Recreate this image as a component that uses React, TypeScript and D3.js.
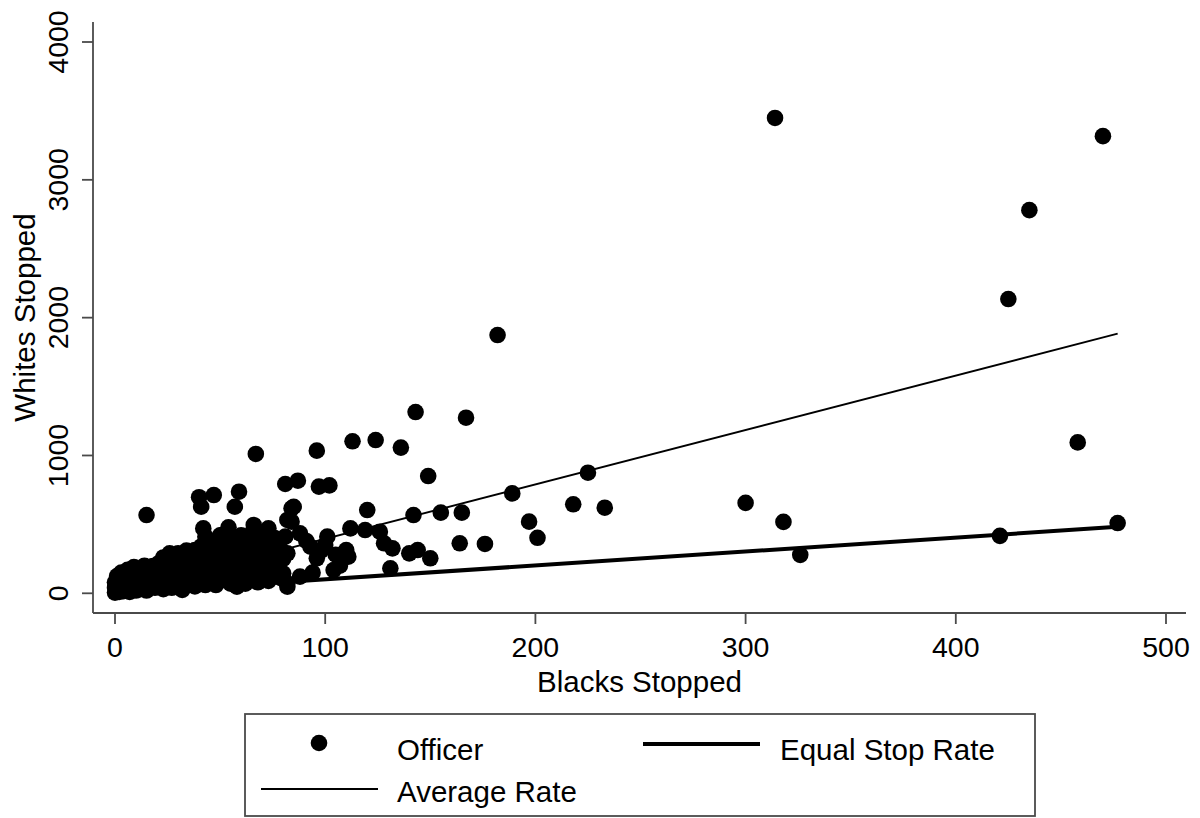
import React from "react";
import * as d3 from "d3";

// Officers: [blacks stopped, whites stopped]
const officers: [number, number][] = [
  [0, 5], [0, 40], [0, 80], [1, 20], [1, 60], [1, 125], [2, 10], [2, 100], [3, 45], [3, 150],
  [4, 15], [4, 80], [5, 130], [5, 30], [6, 60], [6, 170], [7, 10], [7, 110], [8, 40], [8, 150],
  [9, 80], [9, 190], [10, 20], [10, 120], [11, 60], [11, 175], [12, 100], [12, 30], [13, 150], [14, 60],
  [14, 200], [15, 110], [15, 20], [16, 170], [17, 70], [18, 198], [18, 130], [19, 40], [20, 100], [20, 170],
  [15, 568],
  [21, 60], [21, 220], [22, 140], [23, 30], [23, 260], [24, 190], [25, 90], [26, 290], [26, 150], [27, 40],
  [28, 230], [29, 110], [30, 180], [30, 290], [31, 60], [32, 24], [32, 240], [33, 140], [34, 310], [35, 80],
  [35, 200], [36, 260], [37, 130], [38, 314], [38, 50], [39, 190], [40, 250], [40, 100],
  [41, 628], [40, 697], [42, 471], [43, 411], [41, 340], [42, 180], [43, 60], [44, 290], [45, 97], [45, 380],
  [46, 220], [47, 713], [47, 140], [48, 330], [48, 60], [49, 260], [50, 420], [50, 180], [51, 423], [52, 110],
  [52, 300], [53, 220], [54, 479], [54, 338], [55, 160], [55, 70], [56, 260], [57, 628], [57, 380], [58, 48],
  [58, 200], [59, 737], [59, 300], [60, 314], [60, 130], [60, 420],
  [61, 230], [62, 70], [62, 360], [63, 180], [64, 270], [65, 435], [65, 100], [66, 496], [66, 320], [67, 1011],
  [67, 220], [68, 380], [68, 80], [69, 160], [70, 280], [71, 363], [71, 440], [72, 200], [73, 471], [73, 90],
  [74, 300], [75, 240], [76, 400], [77, 180], [78, 330], [79, 314], [79, 110], [80, 250], [80, 145],
  [81, 793], [81, 411], [82, 532], [82, 290], [82, 72], [82, 48], [84, 617], [85, 628], [84, 520], [87, 817],
  [88, 435], [88, 121], [91, 380], [93, 338], [94, 150], [96, 1035], [96, 254], [97, 774], [98, 310], [100, 350],
  [101, 411], [102, 783], [104, 169], [105, 280], [107, 200], [110, 314], [111, 266], [112, 471], [113, 1103], [119, 459],
  [120, 604], [124, 1112], [126, 447], [128, 363], [131, 181], [132, 326], [136, 1057], [140, 290], [142, 568], [143, 1315],
  [144, 314], [149, 851], [150, 254], [155, 585], [165, 585], [164, 363], [167, 1274], [176, 358], [182, 1874], [189, 725],
  [197, 520], [201, 403], [218, 646], [225, 875], [233, 621], [300, 656], [314, 3449], [318, 518], [326, 279], [421, 417],
  [425, 2135], [435, 2780], [458, 1095], [470, 3317], [477, 510],
];

const equalStopRate: [number, number][] = [[0, 0], [477, 482]];
const averageRate: [number, number][] = [[0, 0], [477, 1884]];

const xTicks = [0, 100, 200, 300, 400, 500];
const yTicks = [0, 1000, 2000, 3000, 4000];

const xTitle = "Blacks Stopped";
const yTitle = "Whites Stopped";
const legendLabels = ["Officer", "Equal Stop Rate", "Average Rate"];

const FONT = "'Liberation Sans', Arial, Helvetica, sans-serif";
const AXIS = "#4a4a4a";

export default function App() {
  const x = d3.scaleLinear().domain([0, 500]).range([115, 1166]);
  const y = d3.scaleLinear().domain([0, 4000]).range([593.3, 42]);
  const line = d3
    .line<[number, number]>()
    .x((d) => x(d[0]))
    .y((d) => y(d[1]));

  const left = 93;
  const bottom = 613;
  const top = 22;
  const right = 1186;

  return (
    <svg
      width={1200}
      height={818}
      style={{ position: "absolute", left: 0, top: 0, background: "#fff" }}
      fontFamily={FONT}
    >
      <rect x={0} y={0} width={1200} height={818} fill="#fff" />
      {/* axes */}
      <line x1={left} x2={left} y1={top} y2={bottom} stroke={AXIS} strokeWidth={1.8} />
      <line x1={left} x2={right} y1={bottom} y2={bottom} stroke={AXIS} strokeWidth={1.8} />
      {yTicks.map((t) => (
        <g key={"y" + t}>
          <line x1={left - 11} x2={left} y1={y(t)} y2={y(t)} stroke={AXIS} strokeWidth={1.8} />
          <text
            transform={`translate(68,${y(t)}) rotate(-90)`}
            textAnchor="middle"
            fontSize={28.5}
            fill="#000"
          >
            {t}
          </text>
        </g>
      ))}
      {xTicks.map((t) => (
        <g key={"x" + t}>
          <line x1={x(t)} x2={x(t)} y1={bottom} y2={bottom + 11} stroke={AXIS} strokeWidth={1.8} />
          <text x={x(t)} y={656.5} textAnchor="middle" fontSize={28.5} fill="#000">
            {t}
          </text>
        </g>
      ))}
      <text x={(left + right) / 2} y={691.5} textAnchor="middle" fontSize={29.5} fill="#000">
        {xTitle}
      </text>
      <text
        transform={`translate(35,${(top + bottom) / 2}) rotate(-90)`}
        textAnchor="middle"
        fontSize={29.5}
        fill="#000"
      >
        {yTitle}
      </text>

      {/* points */}
      {officers.map((d, i) => (
        <circle key={i} cx={x(d[0])} cy={y(d[1])} r={8.3} fill="#000" />
      ))}

      {/* lines */}
      <path d={line(equalStopRate) || ""} stroke="#000" strokeWidth={4} fill="none" />
      <path d={line(averageRate) || ""} stroke="#000" strokeWidth={1.9} fill="none" />

      {/* legend */}
      <rect x={245} y={714} width={790} height={102} fill="#fff" stroke={AXIS} strokeWidth={1.8} />
      <circle cx={319} cy={743} r={8.3} fill="#000" />
      <text x={397} y={760} fontSize={29.5} fill="#000">
        {legendLabels[0]}
      </text>
      <line x1={643} x2={760} y1={744} y2={744} stroke="#000" strokeWidth={4} />
      <text x={780} y={760} fontSize={29.5} fill="#000">
        {legendLabels[1]}
      </text>
      <line x1={261} x2={378} y1={789} y2={789} stroke="#000" strokeWidth={1.9} />
      <text x={397} y={802} fontSize={29.5} fill="#000">
        {legendLabels[2]}
      </text>
    </svg>
  );
}
